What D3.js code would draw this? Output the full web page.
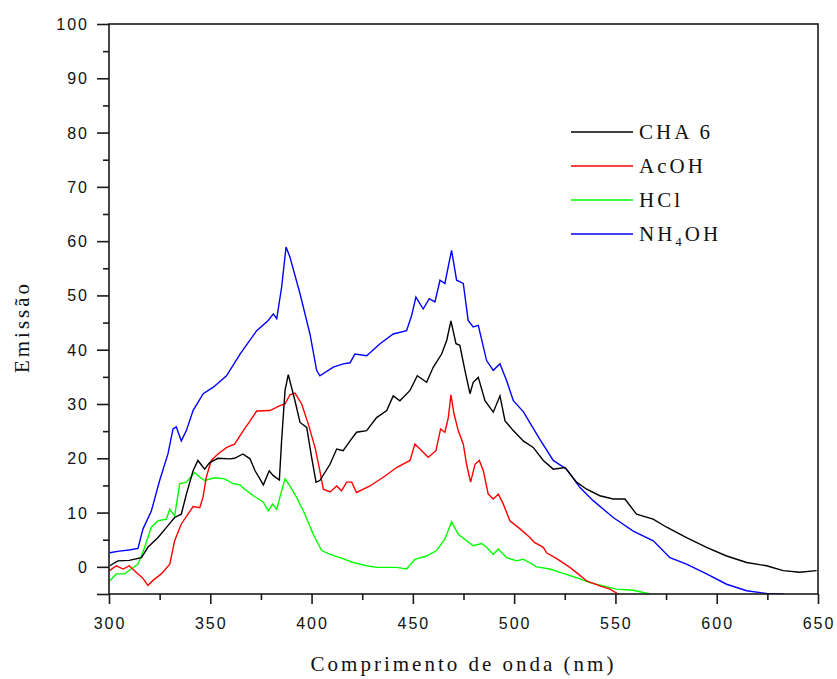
<!DOCTYPE html>
<html>
<head>
<meta charset="utf-8">
<script src="https://cdn.jsdelivr.net/npm/d3@7/dist/d3.min.js"></script>
<style>
  html, body { margin: 0; padding: 0; background: #fff; }
  svg { display: block; }
</style>
</head>
<body>
<svg id="chart" width="837" height="679"></svg>
<script>
// Emission spectra: wavelength (nm) and emission intensity for each sample
const cha6Nm = [300.3,304.4,310,316,319.2,324.2,329.1,332.4,335.7,338.2,341.5,343.9,347.2,349.7,353.8,359.7,362,366.1,369.6,372.1,374.5,376.2,379.1,381.1,384.1,385.2,386.9,388.5,391.8,394.3,397.6,400,402.2,404.1,409.1,412.4,415.6,419,422.2,427.2,432.1,437.1,440.3,443.6,448.6,452.2,456.8,460.1,464.2,466.7,468.8,471.3,473.2,475.7,478.2,479.8,482.3,485.6,489.7,493,495.5,499.6,504.5,509.4,514.4,519.3,525.1,530.8,535.8,542.3,548.9,554.7,560.4,568.6,575.3,585.1,595,604.9,614.8,624.6,632.8,641,649.3];
const cha6Em = [0.2,1.1,1.2,1.7,3.6,5.4,7.6,9.1,9.7,13.4,17.7,19.6,18.0,19.2,20.0,19.9,20.0,20.8,19.9,17.7,16.2,15.1,17.7,16.8,16.0,23.2,32.5,35.4,30.6,26.6,25.7,20.2,15.6,15.9,18.9,21.7,21.4,23.2,24.8,25.1,27.5,28.8,31.5,30.6,32.5,35.2,34.0,36.8,39.2,41.7,45.3,41.1,40.8,36.2,31.9,34.0,34.9,30.6,28.5,31.5,26.9,25.1,23.2,22.0,19.6,18.0,18.3,15.6,14.3,13.1,12.5,12.5,9.7,8.8,7.3,5.4,3.6,2.0,0.8,0.2,-0.7,-1.0,-0.7];

const acohNm = [300.3,303.6,307,310,314.3,316.5,319.2,322,325.8,330,332.4,335.7,339,341.5,344.8,346.4,348,350.5,353.8,358.1,362,366.3,369.5,372.9,379.5,384.4,386.9,389.3,391.8,395.1,398.4,401.7,404.1,405.8,409.1,412.4,414.8,417.3,419.8,422.2,428.8,435.4,442,448.6,451,453.5,457.6,461.4,463.7,465.8,467.5,468.8,470.3,472.4,474.9,476.5,478.5,480.7,482.8,484.8,487.2,489.7,492.2,494.6,497.9,502.9,507.8,510,514.4,516,521,527.5,531.6,535.8,542.3,547.3,551.4,553];
const acohEm = [-0.7,0.2,-0.4,0.2,-1.3,-2.0,-3.4,-2.4,-1.3,0.5,4.8,7.9,9.7,11.1,10.9,12.8,16.5,19.6,20.8,22.0,22.6,25.1,26.8,28.7,28.8,29.7,30.0,31.7,32.0,30.0,26.3,22.0,17.7,14.3,13.8,14.9,14.0,15.6,15.6,13.7,14.9,16.5,18.3,19.6,22.6,21.7,20.2,21.4,25.4,24.8,27.5,31.7,28.2,25.1,22.6,18.9,15.6,18.9,19.6,17.7,13.4,12.5,13.4,11.6,8.5,7.0,5.4,4.5,3.6,2.6,1.5,-0.1,-1.3,-2.6,-3.5,-4.1,-5.0,-5.3];

const hclNm = [300.3,303.6,307.7,311,314.3,317.6,320.9,324.2,328.3,330,332.4,334.9,338.2,342.3,344.9,347.2,352.2,357.1,361.4,364.6,367,371.2,376.2,378.6,380.8,382.8,385.2,386.9,389.3,392.6,396.7,400.8,405,409.1,414,420.6,427.2,432.1,442,446.9,451,456.8,461.7,465.8,469.1,472.4,476.5,479.8,484,486.4,489.7,492.2,496.3,501.2,504.5,511.1,517.7,524.2,530.8,537.4,544,550.6,558.8,567,568];
const hclEm = [-2.6,-1.3,-1.3,-0.4,0.5,3.6,7.3,8.5,8.8,10.6,9.4,15.3,15.6,17.4,16.5,15.9,16.4,16.2,15.3,15.1,14.3,13.1,11.9,10.3,11.6,10.6,14.0,16.2,14.9,12.8,9.7,6.0,3.0,2.3,1.7,0.8,0.2,-0.1,-0.1,-0.4,1.4,2.0,3.0,5.1,8.3,6.0,4.8,3.9,4.3,3.6,2.3,3.3,1.7,1.1,1.4,0.0,-0.4,-1.2,-2.0,-2.9,-3.5,-4.1,-4.3,-5.0,-5.3];

const nh4ohNm = [300.3,305,310,314.3,316.8,320.9,325,329.1,331.6,333.2,335.7,338.2,341.5,346.5,351.5,358,364.7,372.9,378.6,381.1,382.8,385.2,387.4,389.3,394.3,399.2,402.5,404.1,410.7,415.6,419,421.4,427.2,433.8,440.3,446.9,449.4,451.5,455.1,458.1,460.9,463.4,465.8,469.1,471.6,474.9,477.3,479.8,482.3,486.4,489.7,493,496.3,499.6,504.5,512.7,519.3,525.9,532.5,539,548.9,558.8,568.7,576.9,585.1,595,604.9,614.8,624.6,632.8,634];
const nh4ohEm = [2.6,2.9,3.1,3.4,7.0,10.3,15.9,20.8,25.4,25.8,23.2,25.1,28.8,31.9,33.1,35.2,39.2,43.5,45.4,46.6,45.7,51.5,58.9,57.1,50.3,42.9,36.2,35.2,36.8,37.4,37.6,39.2,38.9,41.1,42.9,43.5,46.3,49.7,47.5,49.4,48.8,52.8,52.2,58.3,52.8,52.2,45.4,44.2,44.5,38.0,36.2,37.4,34.3,30.6,28.6,23.5,19.6,18.0,14.6,12.2,9.1,6.6,4.8,1.7,0.5,-1.3,-3.2,-4.4,-4.9,-5.0,-5.3];

const seriesNames = ["CHA 6", "AcOH", "HCl", "NH4OH"];
const seriesColors = ["#000000", "#ff0000", "#00ff00", "#0000ff"];

const xMajorTicks = [300, 350, 400, 450, 500, 550, 600, 650];
const yMajorTicks = [0, 10, 20, 30, 40, 50, 60, 70, 80, 90, 100];

const xTitle = "Comprimento de onda (nm)";
const yTitle = "Emissão";

// ---- layout ----
const svg = d3.select("#chart");
const plot = { left: 109, right: 818, top: 24, bottom: 594 };

const x = d3.scaleLinear().domain([300, 650]).range([plot.left, plot.right]);
const y = d3.scaleLinear().domain([-5, 100]).range([plot.bottom, plot.top]);

const axisColor = "#1a1a1a";
const tickFont = "'Liberation Sans', Arial, sans-serif";
const serifFont = "'Liberation Serif', 'Times New Roman', serif";

// clip the curves to the plotting frame
svg.append("defs").append("clipPath").attr("id", "plotClip")
  .append("rect")
  .attr("x", plot.left).attr("y", plot.top)
  .attr("width", plot.right - plot.left).attr("height", plot.bottom - plot.top);

// ---- series ----
const series = [
  { name: seriesNames[0], nm: cha6Nm, em: cha6Em, color: seriesColors[0] },
  { name: seriesNames[1], nm: acohNm, em: acohEm, color: seriesColors[1] },
  { name: seriesNames[2], nm: hclNm, em: hclEm, color: seriesColors[2] },
  { name: seriesNames[3], nm: nh4ohNm, em: nh4ohEm, color: seriesColors[3] }
];

const line = d3.line()
  .x(d => x(d[0]))
  .y(d => y(d[1]));

const curves = svg.append("g").attr("clip-path", "url(#plotClip)");
// draw in back-to-front order so black sits on top
[2, 1, 3, 0].forEach(i => {
  const s = series[i];
  curves.append("path")
    .datum(d3.zip(s.nm, s.em))
    .attr("fill", "none")
    .attr("stroke", s.color)
    .attr("stroke-width", 1.4)
    .attr("stroke-linejoin", "miter")
    .attr("d", line);
});

// ---- axes ----
const xMinor = d3.range(325, 650, 50);
const yMinor = d3.range(-5, 100, 10);

const xAxisMajor = d3.axisBottom(x).tickValues(xMajorTicks).tickSize(10).tickFormat("");
const xAxisMinor = d3.axisBottom(x).tickValues(xMinor).tickSize(6).tickFormat("");
const yAxisMajor = d3.axisLeft(y).tickValues(yMajorTicks.concat([-5])).tickSize(12).tickFormat("");
const yAxisMinor = d3.axisLeft(y).tickValues(yMinor.filter(v => v !== -5)).tickSize(6).tickFormat("");

function styleAxis(g) {
  g.select(".domain").remove();
  g.selectAll(".tick line").attr("stroke", axisColor).attr("stroke-width", 1.6);
}

svg.append("g").attr("transform", `translate(0,${plot.bottom})`).call(xAxisMajor).call(styleAxis);
svg.append("g").attr("transform", `translate(0,${plot.bottom})`).call(xAxisMinor).call(styleAxis);
svg.append("g").attr("transform", `translate(${plot.left},0)`).call(yAxisMajor).call(styleAxis);
svg.append("g").attr("transform", `translate(${plot.left},0)`).call(yAxisMinor).call(styleAxis);

// frame
svg.append("rect")
  .attr("x", plot.left).attr("y", plot.top)
  .attr("width", plot.right - plot.left).attr("height", plot.bottom - plot.top)
  .attr("fill", "none").attr("stroke", axisColor).attr("stroke-width", 1.6);

// tick labels
svg.append("g").selectAll("text").data(xMajorTicks).join("text")
  .attr("x", d => x(d) + 1)
  .attr("y", 629)
  .attr("text-anchor", "middle")
  .attr("font-family", tickFont)
  .attr("font-size", 16)
  .attr("letter-spacing", 2)
  .attr("fill", "#111")
  .text(d => d);

svg.append("g").selectAll("text").data(yMajorTicks).join("text")
  .attr("x", 89)
  .attr("y", d => y(d) + 6)
  .attr("text-anchor", "end")
  .attr("font-family", tickFont)
  .attr("font-size", 16)
  .attr("letter-spacing", 2)
  .attr("fill", "#111")
  .text(d => d);

// axis titles
svg.append("text")
  .attr("x", (plot.left + plot.right) / 2)
  .attr("y", 671)
  .attr("text-anchor", "middle")
  .attr("font-family", serifFont)
  .attr("font-size", 21)
  .attr("letter-spacing", 3)
  .attr("fill", "#111")
  .text(xTitle);

svg.append("text")
  .attr("transform", "translate(29,327) rotate(-90)")
  .attr("text-anchor", "middle")
  .attr("font-family", serifFont)
  .attr("font-size", 21)
  .attr("letter-spacing", 3)
  .attr("fill", "#111")
  .text(yTitle);

// ---- legend ----
const legend = svg.append("g").attr("transform", "translate(571,132)");
series.forEach((s, i) => {
  const row = legend.append("g").attr("transform", `translate(0,${i * 34})`);
  row.append("line")
    .attr("x1", 0).attr("x2", 62)
    .attr("y1", 0).attr("y2", 0)
    .attr("stroke", s.color).attr("stroke-width", 1.6);
  const t = row.append("text")
    .attr("x", 68).attr("y", 7)
    .attr("font-family", serifFont)
    .attr("font-size", 21)
    .attr("letter-spacing", 3)
    .attr("fill", "#111");
  if (s.name === "NH4OH") {
    t.append("tspan").text("NH");
    t.append("tspan").attr("font-size", 13).attr("dy", 5).text("4");
    t.append("tspan").attr("dy", -5).text("OH");
  } else {
    t.text(s.name);
  }
});
</script>
</body>
</html>
